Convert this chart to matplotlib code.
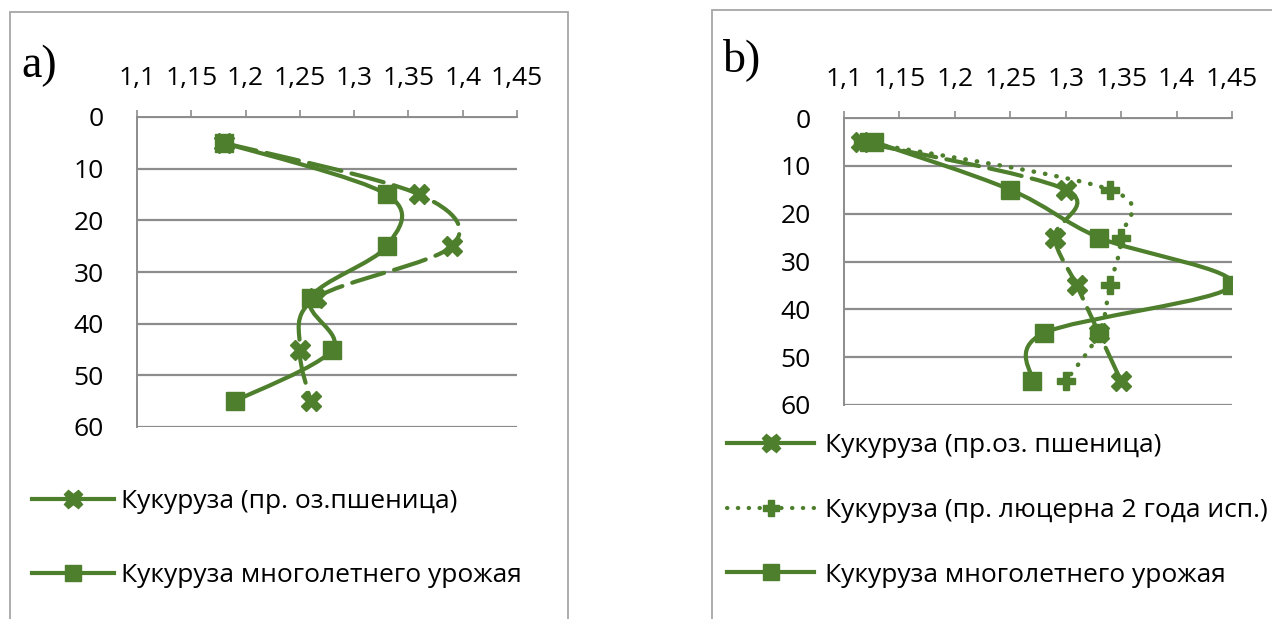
import matplotlib
matplotlib.use('Agg')
import matplotlib.pyplot as plt
from matplotlib.path import Path
from matplotlib.patches import PathPatch, Rectangle
from matplotlib.lines import Line2D

plt.rcParams['font.family'] = ['Open Sans', 'DejaVu Sans']

# data (depth in cm, density values)
depth = [5, 15, 25, 35, 45, 55]
a_wheat = [1.18, 1.36, 1.39, 1.265, 1.25, 1.26]
a_perennial = [1.18, 1.33, 1.33, 1.26, 1.28, 1.19]
b_wheat = [1.115, 1.30, 1.29, 1.31, 1.33, 1.35]
b_alfalfa = [1.117, 1.34, 1.35, 1.34, 1.33, 1.30]
b_perennial = [1.127, 1.25, 1.33, 1.45, 1.28, 1.27]

x_ticks = [1.1, 1.15, 1.2, 1.25, 1.3, 1.35, 1.4, 1.45]
x_labels = ['1,1', '1,15', '1,2', '1,25', '1,3', '1,35', '1,4', '1,45']
y_ticks = [0, 10, 20, 30, 40, 50, 60]

lab_wheat_a = 'Кукуруза (пр. оз.пшеница)'
lab_wheat_b = 'Кукуруза (пр.оз. пшеница)'
lab_alfalfa = 'Кукуруза (пр. люцерна 2 года исп.)'
lab_perennial = 'Кукуруза многолетнего урожая'

GREEN = '#4e7f2c'
GRID = '#8c8c8c'


def smooth_path(xs, ys):
    # excel-like smoothed line: catmull-rom segments as cubic beziers
    pts = list(zip(xs, ys))
    n = len(pts)
    verts = [pts[0]]
    codes = [Path.MOVETO]
    for i in range(n - 1):
        p0 = pts[i - 1] if i > 0 else pts[i]
        p1 = pts[i]
        p2 = pts[i + 1]
        p3 = pts[i + 2] if i + 2 < n else pts[i + 1]
        c1 = (p1[0] + (p2[0] - p0[0]) / 6, p1[1] + (p2[1] - p0[1]) / 6)
        c2 = (p2[0] - (p3[0] - p1[0]) / 6, p2[1] - (p3[1] - p1[1]) / 6)
        verts += [c1, c2, p2]
        codes += [Path.CURVE4] * 3
    return Path(verts, codes)


def add_series(ax, xs, ys, marker, ms, ls, lw=3.0):
    patch = PathPatch(smooth_path(xs, ys), fill=False, edgecolor=GREEN,
                      lw=lw, linestyle=ls, capstyle='round', zorder=3)
    ax.add_patch(patch)
    ax.plot(xs, ys, linestyle='none', marker=marker, ms=ms, color=GREEN,
            mec=GREEN, zorder=4)


def setup_axes(ax):
    ax.set_xlim(1.1, 1.45)
    ax.set_ylim(60, 0)
    ax.xaxis.tick_top()
    ax.set_xticks(x_ticks)
    ax.set_xticklabels(x_labels)
    ax.set_yticks(y_ticks)
    ax.tick_params(axis='x', direction='out', length=5, width=1.2,
                   color=GRID, pad=14, labelsize=19)
    ax.tick_params(axis='y', length=0, pad=24, labelsize=19)
    ax.yaxis.grid(True, color=GRID, lw=1.6)
    ax.set_axisbelow(True)
    for s in ['right', 'bottom']:
        ax.spines[s].set_visible(False)
    for s in ['top', 'left']:
        ax.spines[s].set_color(GRID)
        ax.spines[s].set_linewidth(1.4)


fig = plt.figure(figsize=(12.72, 6.19), dpi=100)

# panel frames
fig.patches.append(Rectangle((10 / 1272, -0.1), 558 / 1272, 1.1 - 12 / 619,
                             transform=fig.transFigure, fill=False,
                             edgecolor='#a6a6a6', lw=1.3))
fig.patches.append(Rectangle((712 / 1272, -0.1), 0.5, 1.1 - 10 / 619,
                             transform=fig.transFigure, fill=False,
                             edgecolor='#a6a6a6', lw=1.3))

# a)
ax1 = fig.add_axes([137 / 1272, 192 / 619, 380 / 1272, 310 / 619])
setup_axes(ax1)
add_series(ax1, a_wheat, depth, 'X', 14, (0, (8, 2.5)))
add_series(ax1, a_perennial, depth, 's', 13, '-')
fig.text(21 / 1272, 1 - 66 / 619, 'a)', family=['Liberation Serif', 'DejaVu Serif'],
         fontsize=33, va='center', ha='left')

h_wheat = Line2D([], [], color=GREEN, lw=3, marker='X', ms=13)
h_alf = Line2D([], [], color=GREEN, lw=3, ls=(0, (0.1, 2.5)),
               dash_capstyle='round', marker='P', ms=12)
h_per = Line2D([], [], color=GREEN, lw=3, marker='s', ms=12)

fig.legend([h_wheat, h_per], [lab_wheat_a, lab_perennial],
           loc='upper left', bbox_to_anchor=(32 / 1272, 1 - 489 / 619),
           frameon=False, fontsize=19, handlelength=3.1,
           handletextpad=0.27, labelspacing=1.87, borderpad=0, borderaxespad=0)

# b)
ax2 = fig.add_axes([844 / 1272, 214 / 619, 388 / 1272, 287 / 619])
setup_axes(ax2)
add_series(ax2, b_wheat, depth, 'X', 14, (0, (8, 2.5)))
add_series(ax2, b_alfalfa, depth, 'P', 13, (0, (0.1, 2.5)), lw=3.2)
add_series(ax2, b_perennial, depth, 's', 13, '-')
fig.text(723 / 1272, 1 - 60 / 619, 'b)', family=['Liberation Serif', 'DejaVu Serif'],
         fontsize=33, va='center', ha='left')

fig.legend([h_wheat, h_alf, h_per], [lab_wheat_b, lab_alfalfa, lab_perennial],
           loc='upper left', bbox_to_anchor=(727 / 1272, 1 - 433 / 619),
           frameon=False, fontsize=19, handlelength=3.3,
           handletextpad=0.42, labelspacing=1.51, borderpad=0, borderaxespad=0)

fig.savefig('out.png', dpi=100)
